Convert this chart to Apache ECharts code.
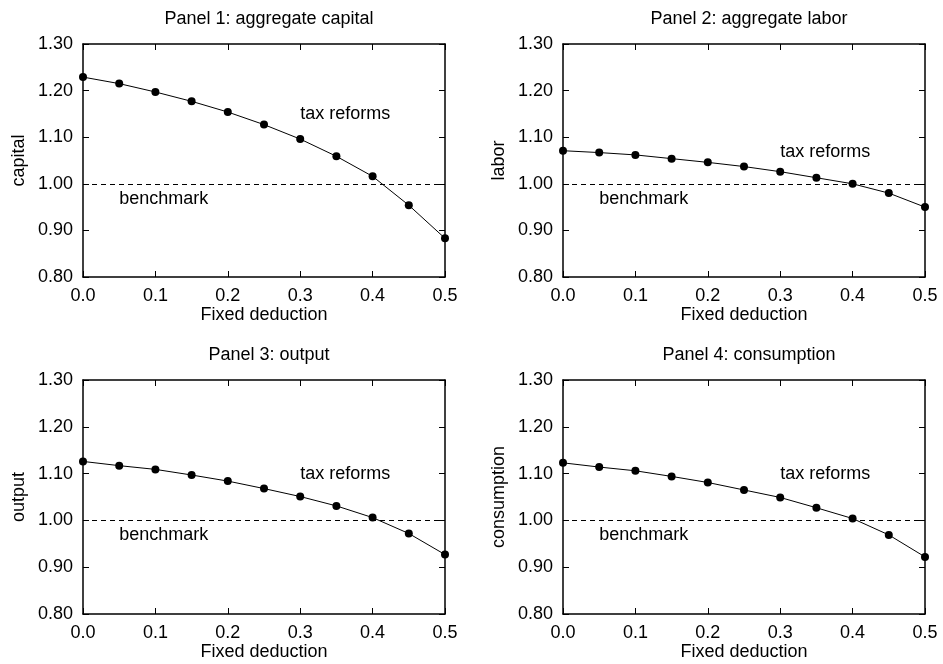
<!DOCTYPE html>
<html>
<head>
<meta charset="utf-8">
<script src="https://cdn.jsdelivr.net/npm/echarts@6/dist/echarts.min.js"></script>
<style>
html,body{margin:0;padding:0;background:#fff;}
#chart{width:943px;height:664px;}
</style>
</head>
<body>
<div id="chart"></div>
<script>
// ---- data ----
const fixedDeduction = [0.0, 0.05, 0.1, 0.15, 0.2, 0.25, 0.3, 0.35, 0.4, 0.45, 0.5];
const capital     = [1.229, 1.215, 1.197, 1.177, 1.154, 1.127, 1.096, 1.059, 1.016, 0.954, 0.883];
const labor       = [1.071, 1.067, 1.062, 1.054, 1.046, 1.037, 1.026, 1.013, 1.000, 0.980, 0.950];
const output      = [1.126, 1.117, 1.109, 1.097, 1.084, 1.068, 1.051, 1.031, 1.006, 0.972, 0.927];
const consumption = [1.123, 1.114, 1.106, 1.094, 1.081, 1.065, 1.049, 1.027, 1.004, 0.969, 0.922];
const panelTitles = ["Panel 1: aggregate capital", "Panel 2: aggregate labor", "Panel 3: output", "Panel 4: consumption"];
const yNames = ["capital", "labor", "output", "consumption"];
const xName = "Fixed deduction";
const benchmarkValue = 1.0;
const taxReformsPos = [[0.3, 1.149], [0.3, 1.068], [0.3, 1.099], [0.3, 1.099]];
const benchmarkPos  = [[0.05, 0.968], [0.05, 0.968], [0.05, 0.968], [0.05, 0.968]];
const xMin = 0, xMax = 0.5, xStep = 0.1;
const yMin = 0.8, yMax = 1.3, yStep = 0.1;

// ---- layout ----
const seriesData = [capital, labor, output, consumption];
const grids = [
  {left: 83, top: 44, width: 362, height: 233},
  {left: 563, top: 44, width: 362, height: 233},
  {left: 83, top: 380, width: 362, height: 234},
  {left: 563, top: 380, width: 362, height: 234}
];
const titleTops = [5, 5, 341, 341];
const FONT = "'Liberation Sans', Arial, sans-serif";
const FS = 18;

const option = {
  backgroundColor: '#fff',
  animation: false,
  textStyle: {fontFamily: FONT, color: '#000'},
  title: [], grid: [], xAxis: [], yAxis: [], series: []
};

grids.forEach((g, i) => {
  option.grid.push(Object.assign({containLabel: false}, g));
  option.title.push({
    text: panelTitles[i],
    left: g.left + g.width / 2,
    top: titleTops[i],
    textAlign: 'center',
    textStyle: {fontFamily: FONT, fontSize: FS, fontWeight: 'normal', color: '#000'}
  });
  const axisLine = {show: true, onZero: false, lineStyle: {color: '#000', width: 1.5}};
  const axisTick = {show: true, inside: true, length: 6, lineStyle: {color: '#000', width: 1}};
  // bottom x
  option.xAxis.push({
    gridIndex: i, type: 'value', position: 'bottom',
    min: xMin, max: xMax, interval: xStep,
    name: xName, nameLocation: 'middle', nameGap: 28,
    nameTextStyle: {fontFamily: FONT, fontSize: FS, color: '#000'},
    axisLine, axisTick, splitLine: {show: false},
    axisLabel: {fontFamily: FONT, fontSize: FS, color: '#000', margin: 10,
      formatter: v => v.toFixed(1)}
  });
  // top x (ticks only)
  option.xAxis.push({
    gridIndex: i, type: 'value', position: 'top',
    min: xMin, max: xMax, interval: xStep,
    axisLine, axisTick, splitLine: {show: false}, axisLabel: {show: false}
  });
  // left y
  option.yAxis.push({
    gridIndex: i, type: 'value', position: 'left',
    min: yMin, max: yMax, interval: yStep,
    name: yNames[i], nameLocation: 'middle', nameGap: 55, nameRotate: 90,
    nameTextStyle: {fontFamily: FONT, fontSize: FS, color: '#000'},
    axisLine, axisTick, splitLine: {show: false},
    axisLabel: {fontFamily: FONT, fontSize: FS, color: '#000', margin: 10,
      formatter: v => v.toFixed(2)}
  });
  // right y (ticks only)
  option.yAxis.push({
    gridIndex: i, type: 'value', position: 'right',
    min: yMin, max: yMax, interval: yStep,
    axisLine, axisTick, splitLine: {show: false}, axisLabel: {show: false}
  });

  option.series.push({
    type: 'line',
    xAxisIndex: 2 * i, yAxisIndex: 2 * i,
    data: fixedDeduction.map((x, k) => [x, seriesData[i][k]]),
    symbol: 'circle', symbolSize: 8,
    itemStyle: {color: '#000', opacity: 1},
    lineStyle: {color: '#000', width: 1},
    z: 5,
    markLine: {
      silent: true, symbol: 'none',
      label: {show: false},
      lineStyle: {color: '#000', type: [5, 4], width: 1, opacity: 1},
      data: [{yAxis: benchmarkValue}]
    }
  });
  option.series.push({
    type: 'scatter',
    xAxisIndex: 2 * i, yAxisIndex: 2 * i,
    symbolSize: 0, silent: true,
    itemStyle: {color: '#000', opacity: 1},
    data: [
      {value: taxReformsPos[i], name: 'tax reforms'},
      {value: benchmarkPos[i], name: 'benchmark'}
    ],
    label: {show: true, position: 'right', distance: 0,
      formatter: p => p.name, opacity: 1,
      fontFamily: FONT, fontSize: FS, color: '#000'}
  });
});

const chart = echarts.init(document.getElementById('chart'), null, {renderer: 'canvas'});
chart.setOption(option);
</script>
</body>
</html>
